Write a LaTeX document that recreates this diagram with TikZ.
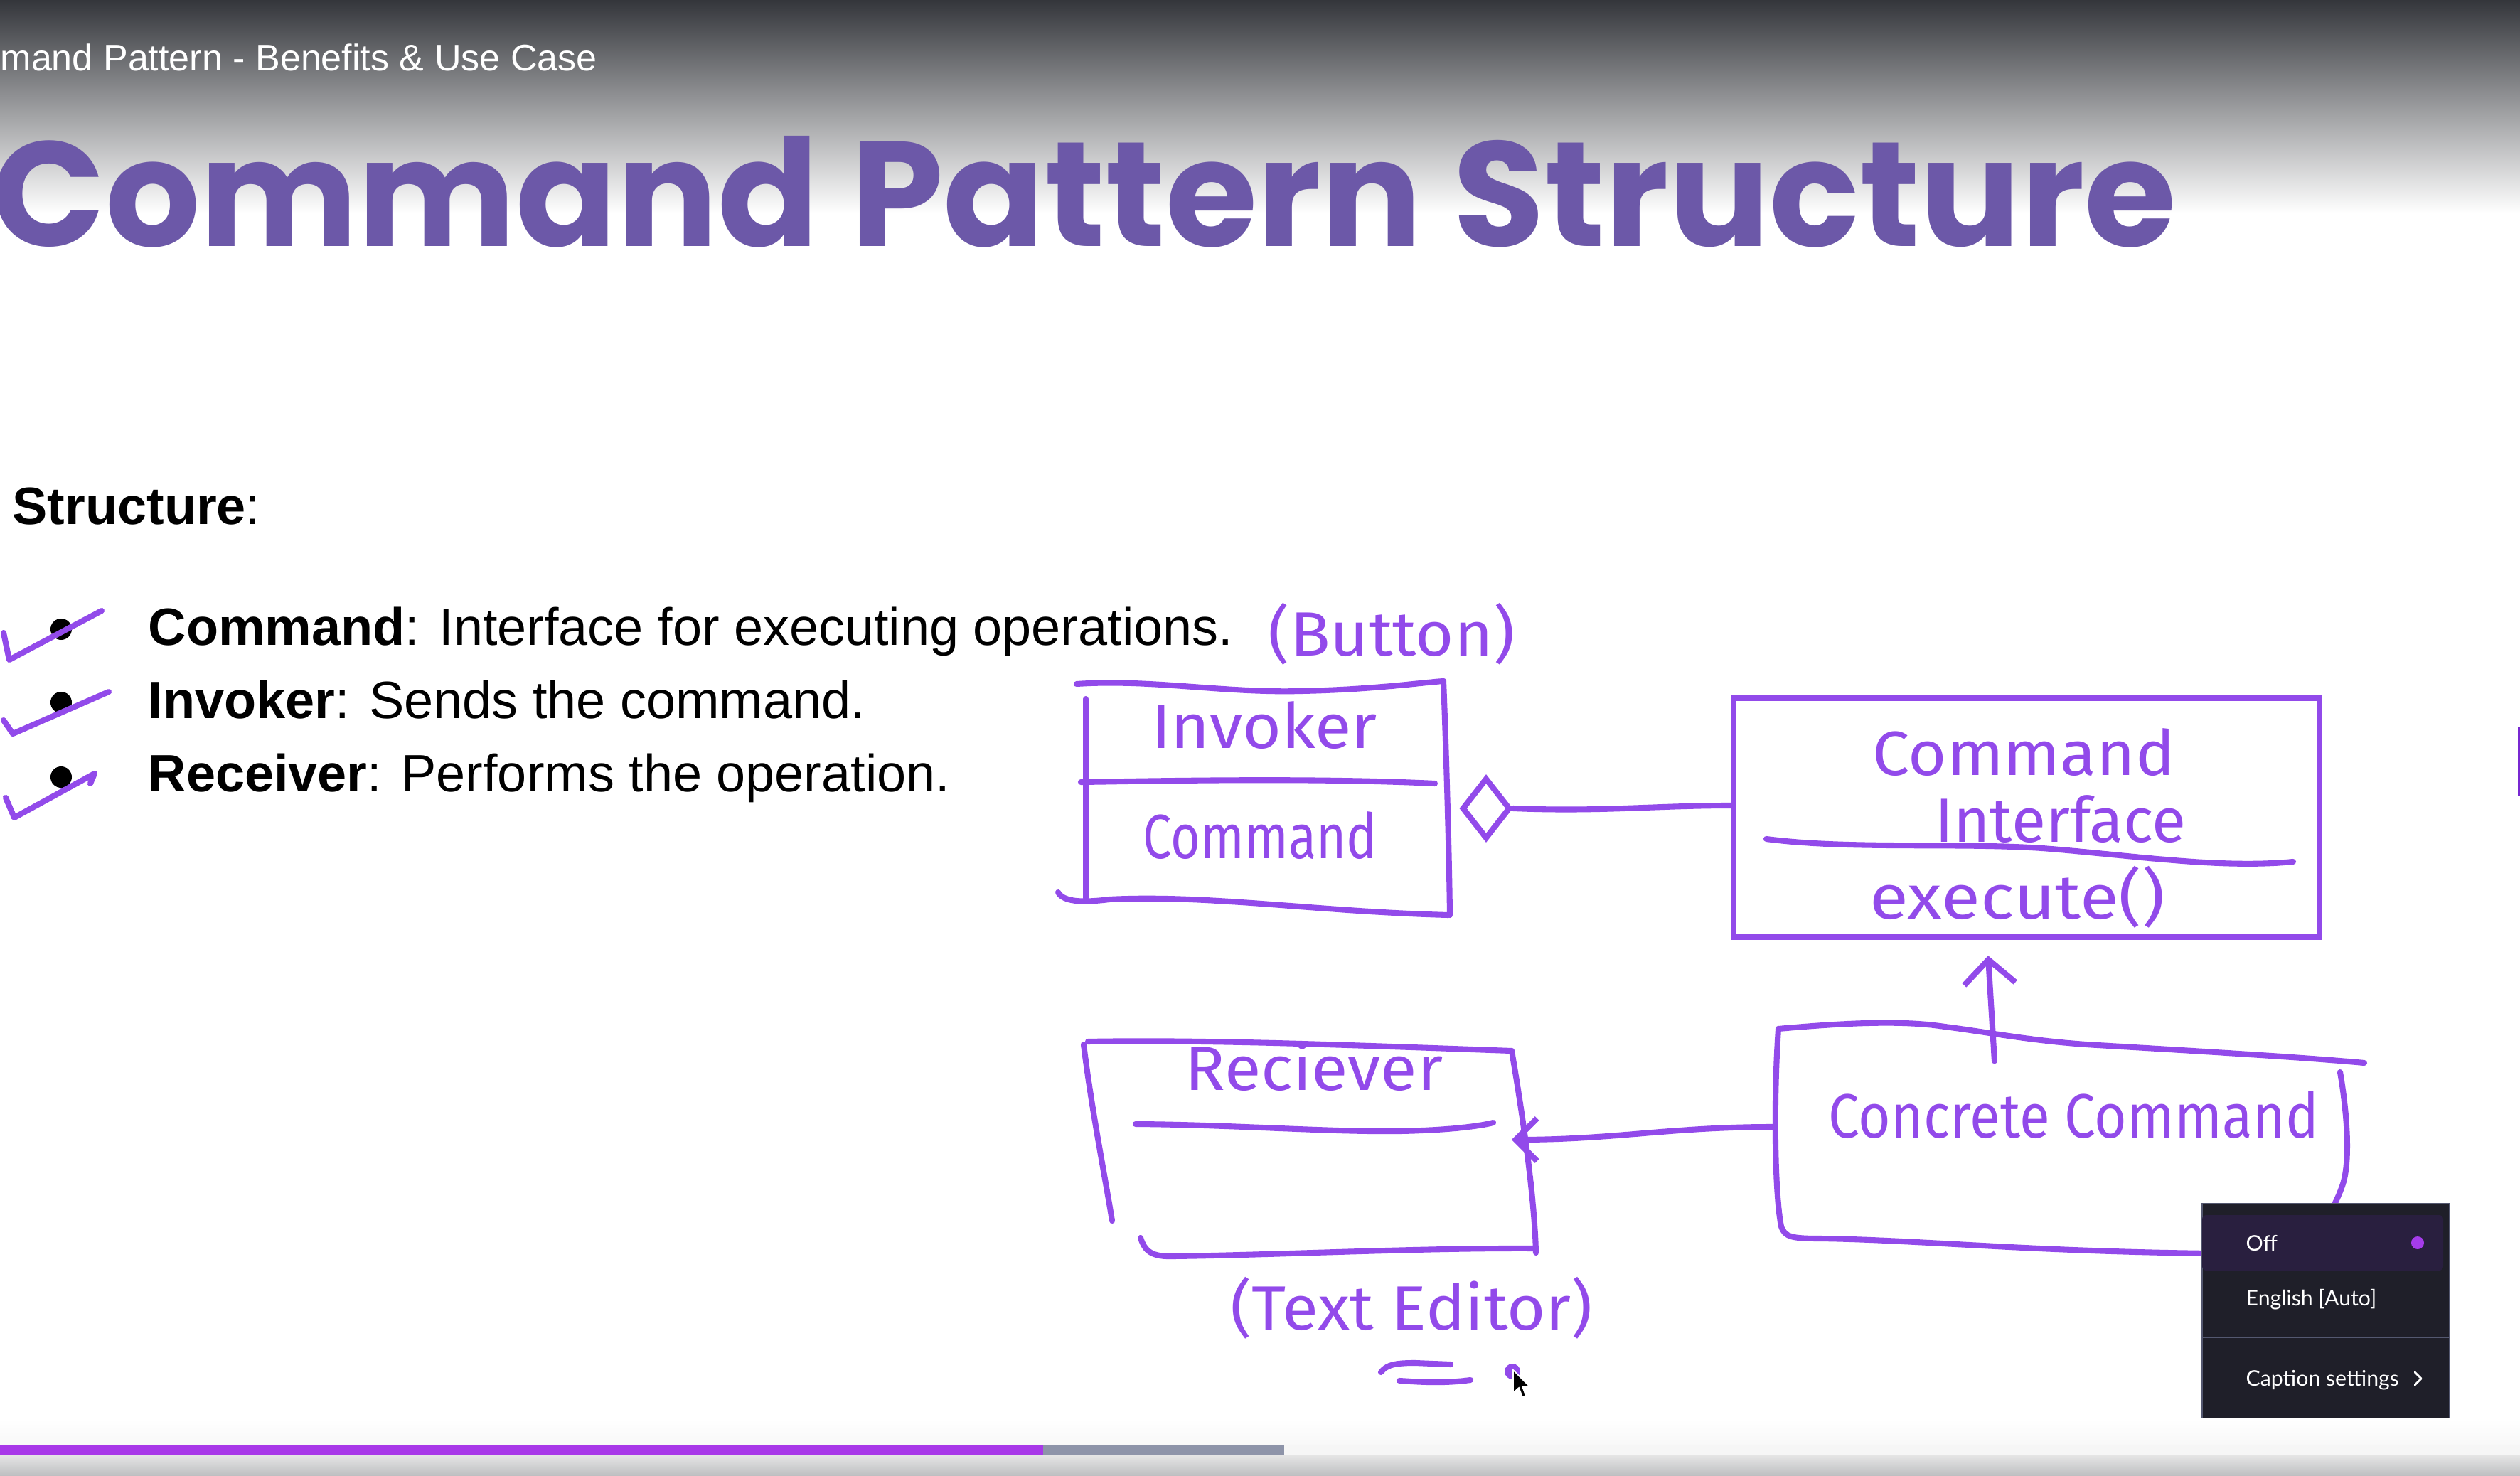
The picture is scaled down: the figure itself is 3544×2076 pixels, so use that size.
\documentclass[tikz,border=0pt]{standalone}
\usepackage{fontspec}
\setmainfont{Liberation Sans}
\newfontfamily\titlefont{Poppins}
\newfontfamily\handfont{Fira Sans}
\newfontfamily\menufont{Lato}
\usetikzlibrary{shapes.geometric,arrows.meta}
\definecolor{ink}{RGB}{146,74,234}
\definecolor{titlec}{RGB}{108,88,168}
\definecolor{topdark}{RGB}{52,54,59}
\definecolor{topmid}{RGB}{162,163,166}
\definecolor{menubg}{RGB}{31,31,41}
\definecolor{menuhl}{RGB}{41,31,63}
\definecolor{menuborder}{RGB}{84,88,112}
\definecolor{menudot}{RGB}{165,60,234}
\definecolor{barpurple}{RGB}{168,56,232}
\definecolor{bargrey}{RGB}{142,148,169}
\definecolor{barlight}{RGB}{246,246,246}
\definecolor{edgebar}{RGB}{120,40,210}
\begin{document}
\begin{tikzpicture}[x=0.01cm,y=-0.01cm,
  inkline/.style={draw=ink, line width=2.3pt, line cap=round, line join=round},
  hw/.style={text=ink, font=\handfont\fontsize{25pt}{30pt}\selectfont, inner sep=0},
  body/.style={anchor=base west, inner sep=0, font=\fontsize{21pt}{24pt}\selectfont},
  boxnode/.style={draw=none, rectangle, inner sep=0},
  menutxt/.style={anchor=base west, inner sep=0, text=white, font=\menufont\fontsize{8.6pt}{10pt}\selectfont}]
\useasboundingbox (0,0) rectangle (3544,2076);
\clip (0,0) rectangle (3544,2076);
\fill[white] (0,0) rectangle (3544,2076);
% top gradient
\shade[top color=topdark, middle color=topmid, bottom color=white] (0,0) rectangle (3544,300);
\node[anchor=base west, inner sep=0, text=white, font=\fontsize{14.8pt}{17pt}\selectfont] (subtitle) at (0,100) {mand Pattern - Benefits \& Use Case};
\node[anchor=base west, inner sep=0, text=titlec, font=\titlefont\bfseries\fontsize{59.6pt}{68pt}\selectfont] (title) at (-12,347) {Command Pattern Structure};
% left text
\node[body] (structure) at (17,738) {\textbf{Structure}:};
\fill[black] (86,885) circle[radius=0.15cm];
\fill[black] (86,988) circle[radius=0.15cm];
\fill[black] (86,1093) circle[radius=0.15cm];
\node[body] (b1) at (208,907) {\textbf{Command}: Interface for executing operations.};
\node[body] (b2) at (208,1010) {\textbf{Invoker}: Sends the command.};
\node[body] (b3) at (208,1113) {\textbf{Receiver}: Performs the operation.};
\draw[inkline] (5,890) -- (13,928) -- (143,859);
\draw[inkline] (5,1013) -- (18,1032) -- (153,973);
\draw[inkline] (8,1122) -- (20,1150) -- (133,1088) -- (127,1102);
\node[hw] (button) at (1957,892) {\scalebox{1.06}[1]{(Button)}};
% invoker
\node[boxnode, minimum width=5.25cm, minimum height=3.27cm] (invoker) at (1776,1123) {};
\draw[inkline] (1514,962) .. controls (1620,955) and (1720,975) .. (1830,972) .. controls (1930,970) and (2000,960) .. (2030,958);
\draw[inkline] (2030,958) .. controls (2034,1060) and (2038,1200) .. (2039,1287);
\draw[inkline] (1527,983) -- (1527,1263);
\draw[inkline] (1488,1255) .. controls (1495,1268) and (1520,1270) .. (1560,1265) .. controls (1700,1258) and (1850,1282) .. (2037,1287);
\draw[inkline] (1520,1100) .. controls (1650,1098) and (1850,1094) .. (2018,1102);
\node[hw] (invT) at (1778,1020) {\scalebox{1.07}[1]{Invoker}};
\node[hw] (invC) at (1772,1175) {\scalebox{0.82}[1]{Command}};
\node[diamond, draw=ink, line width=2.3pt, minimum width=0.68cm, minimum height=0.86cm, inner sep=0] (agg) at (2090,1137) {};
% command interface
\node[draw=ink, line width=2.3pt, minimum width=8.23cm, minimum height=3.36cm, inner sep=0] (cmdif) at (2850,1150) {};
\node[hw] (ciT1) at (2846,1058) {\scalebox{1.06}[1]{Command}};
\node[hw] (ciT2) at (2898,1152) {Interface};
\draw[inkline] (2484,1180) .. controls (2600,1195) and (2750,1185) .. (2872,1193) .. controls (3000,1203) and (3120,1222) .. (3225,1212);
\node[hw] (ciT3) at (2837,1262) {\scalebox{1.14}[1]{execute()}};
\draw[inkline] (agg.east) .. controls (2250,1142) and (2330,1133) .. ([yshift=0.17cm]cmdif.west);
% receiver
\node[boxnode, minimum width=5.6cm, minimum height=2.9cm] (recv) at (1845,1603) {};
\draw[inkline] (1530,1465) .. controls (1700,1462) and (1900,1470) .. (2126,1478);
\draw[inkline] (1524,1469) .. controls (1535,1560) and (1555,1660) .. (1564,1717);
\draw[inkline] (2126,1478) .. controls (2140,1560) and (2158,1680) .. (2160,1762);
\draw[inkline] (1604,1741) .. controls (1610,1760) and (1620,1768) .. (1650,1767) .. controls (1800,1765) and (2000,1755) .. (2160,1756);
\draw[inkline] (1597,1581) .. controls (1750,1582) and (1900,1595) .. (2000,1590) .. controls (2050,1588) and (2085,1583) .. (2100,1579);
\node[hw] (recvT) at (1848,1500) {\scalebox{1.07}[1]{Reciever}};
\node[hw] (textedit) at (1985,1840) {\scalebox{1.06}[1]{(Text Editor)}};
% concrete command
\node[boxnode, minimum width=8.1cm, minimum height=3.0cm] (concrete) at (2900,1585) {};
\draw[inkline] (2501,1447) .. controls (2580,1440) and (2660,1435) .. (2720,1442) .. controls (2800,1452) and (2860,1465) .. (2950,1470) .. controls (3120,1480) and (3250,1488) .. (3325,1495);
\draw[inkline] (2501,1447) .. controls (2494,1550) and (2496,1680) .. (2505,1725) .. controls (2510,1740) and (2520,1742) .. (2560,1742) .. controls (2700,1744) and (2850,1760) .. (3110,1763);
\draw[inkline] (3291,1508) .. controls (3300,1560) and (3306,1630) .. (3295,1665) .. controls (3290,1680) and (3285,1690) .. (3280,1700);
\node[hw] (concT) at (2916,1568) {\scalebox{0.89}[1]{Concrete Command}};
% connectors
\draw[inkline, -{Straight Barb[length=0.3cm,width=0.6cm]}] (concrete.west) to[out=180,in=0] (recv.east);
\draw[inkline, -{Straight Barb[length=0.34cm,width=0.72cm]}] ([xshift=-0.95cm,yshift=-0.58cm]concrete.north) -- ([xshift=-0.54cm,yshift=-0.22cm]cmdif.south);
% scribbles under text editor
\draw[inkline] (1942,1930) .. controls (1950,1920) and (1960,1917) .. (1990,1917) -- (2040,1919);
\draw[inkline] (1968,1942) .. controls (2000,1944) and (2030,1946) .. (2068,1941);
\fill[ink] (2127,1929) circle[radius=0.11cm];
% cursor
\filldraw[fill=black, draw=white, line width=0.5pt] (2128,1927) -- (2128,1959) -- (2136,1952) -- (2141,1965) -- (2146,1963) -- (2141,1950) -- (2151,1950) -- cycle;
% caption menu
\shade[top color={rgb,255:red,226;green,228;blue,238}, bottom color=white] (3096,1994) rectangle (3444,2030);
\node[draw=menuborder, line width=0.6pt, fill=menubg, minimum width=3.48cm, minimum height=3.02cm, inner sep=0, anchor=north west] (menu) at (3096,1692) {};
\fill[menuhl, rounded corners=0.06cm] (3097,1709) rectangle (3436,1787);
\node[menutxt] (off) at (3158,1759) {Off};
\fill[menudot] (3400,1748) circle[radius=0.09cm];
\node[menutxt] (eng) at (3158,1836) {English [Auto]};
\draw[menuborder, line width=0.6pt] (3096,1881) -- (3444,1881);
\node[menutxt] (capset) at (3158,1949) {Caption settings};
\draw[white, line width=0.8pt, line cap=round, line join=round] (3396,1930) -- (3405,1939) -- (3396,1948);
% right edge bar
\fill[edgebar] (3541,1023) rectangle (3544,1120);
% bottom bar
\shade[top color=white, bottom color={rgb,255:red,248;green,248;blue,248}] (0,1995) rectangle (3544,2033);
\fill[barpurple] (0,2033) rectangle (1467,2046);
\fill[bargrey] (1467,2033) rectangle (1806,2046);
\fill[barlight] (1806,2033) rectangle (3544,2046);
\shade[top color={rgb,255:red,230;green,230;blue,230}, bottom color={rgb,255:red,189;green,190;blue,192}] (0,2046) rectangle (3544,2076);
\end{tikzpicture}
\end{document}
